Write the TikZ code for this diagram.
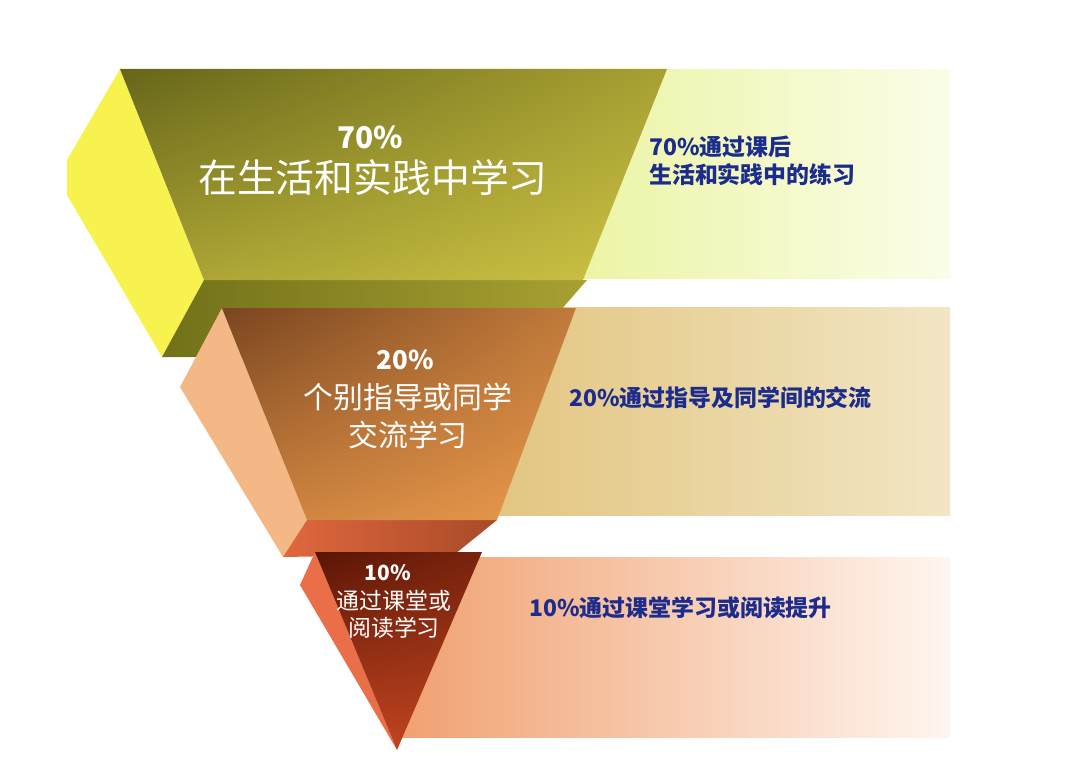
\documentclass[tikz,border=0pt]{standalone}
\usepackage{fontspec}
\setmainfont{Noto Sans CJK SC}
\usepackage{tikz}
\usetikzlibrary{positioning, shadings}

\definecolor{oliveDark}{HTML}{66661A}
\definecolor{oliveMid}{HTML}{A8A032}
\definecolor{oliveLight}{HTML}{CDC445}
\definecolor{oliveUnder}{HTML}{7E7E1C}
\definecolor{lemonSide}{HTML}{F7F24E}
\definecolor{brownDark}{HTML}{7A4520}
\definecolor{brownMid}{HTML}{C07A3A}
\definecolor{brownLight}{HTML}{EB9A4C}
\definecolor{salmonSide}{HTML}{F4B886}
\definecolor{rustLight}{HTML}{E0683E}
\definecolor{rustDark}{HTML}{A84A28}
\definecolor{wineDark}{HTML}{5A1505}
\definecolor{wineLight}{HTML}{C04420}
\definecolor{coralSide}{HTML}{EA6E48}
\definecolor{noteBlue}{HTML}{1C2C8C}

\begin{document}
\begin{tikzpicture}[x=1bp,y=-1bp,
    bigpct/.style={text=white,inner sep=0pt,font=\bfseries},
    biglabel/.style={text=white,inner sep=0pt,align=center},
    notetext/.style={text=noteBlue,inner sep=0pt,anchor=west,align=left,font=\bfseries\fontsize{23}{28}\selectfont}]
    \useasboundingbox (0,0) rectangle (1080,766);
    % Side panels
    \shade[left color={rgb,255:red,236;green,244;blue,164},right color={rgb,255:red,251;green,253;blue,232}] (575,70) rectangle (950,278);
    \shade[left color={rgb,255:red,226;green,196;blue,126},right color={rgb,255:red,242;green,230;blue,196}] (480,307) rectangle (950,515);
    \shade[left color={rgb,255:red,240;green,160;blue,112},right color={rgb,255:red,255;green,246;blue,240}] (396,557) rectangle (950,737);

    % Top slab (70%)
    \fill[lemonSide] (120,69) -- (67,160) -- (67,195) -- (162,357) -- (204,280) -- cycle;
    \shade[left color=oliveUnder!90!black,right color=oliveMid] (204,280) -- (587,280) -- (520,357) -- (162,357) -- cycle;
    \shade[upper left=oliveDark,upper right=oliveMid,lower left=oliveMid,lower right=oliveLight] (120,69) -- (667,69) -- (583,280) -- (204,280) -- cycle;

    % Middle slab (20%)
    \fill[salmonSide] (222,308) -- (180,387) -- (283,557) -- (307,520) -- cycle;
    \shade[left color=rustLight,right color=rustDark] (307,520) -- (497,520) -- (455,554) -- (283,557) -- cycle;
    \shade[upper left=brownDark,upper right=brownMid,lower left=brownMid!80!brownLight,lower right=brownLight] (222,308) -- (576,308) -- (497,520) -- (307,520) -- cycle;

    % Bottom tip (10%)
    \fill[coralSide] (315,552) -- (300,585) -- (397,750) -- cycle;
    \shade[upper left=wineDark,upper right=wineDark!70!wineLight,lower left=wineLight,lower right=wineLight] (315,552) -- (482,552) -- (397,750) -- cycle;

    % Labels
    \node[bigpct,font=\bfseries\fontsize{30}{32}\selectfont] (pctA) at (370,137) {70\%};
    \node[biglabel,font=\fontsize{39}{40}\selectfont] (labA) at (373,178) {在生活和实践中学习};
    \node[bigpct,font=\bfseries\fontsize{26}{28}\selectfont] (pctB) at (405,360) {20\%};
    \node[biglabel,font=\fontsize{30}{38}\selectfont] (labB) at (408,416) {个别指导或同学\\交流学习};
    \node[bigpct,font=\bfseries\fontsize{21}{23}\selectfont] (pctC) at (388,573) {10\%};
    \node[biglabel,font=\fontsize{23}{27}\selectfont] (labC) at (394,614) {通过课堂或\\阅读学习};

    % Notes on the right
    \node[notetext] (noteA) at (649,161) {70\%通过课后\\生活和实践中的练习};
    \node[notetext] (noteB) at (569,398) {20\%通过指导及同学间的交流};
    \node[notetext] (noteC) at (529,608) {10\%通过课堂学习或阅读提升};
\end{tikzpicture}
\end{document}
